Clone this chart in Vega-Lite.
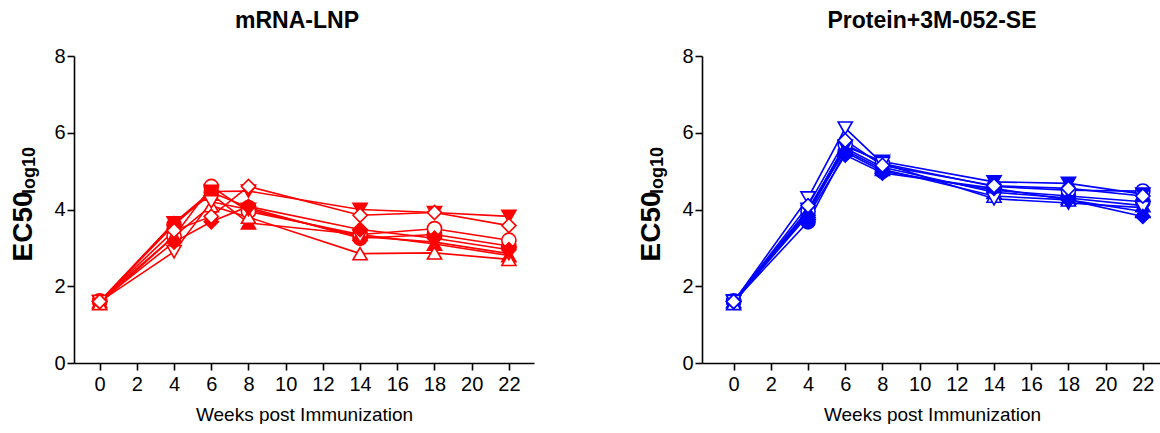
{
  "$schema": "https://vega.github.io/schema/vega-lite/v6.json",
  "padding": {"left": 9, "top": 10, "right": 0, "bottom": 0},
  "bounds": "flush",
  "spacing": 168,
  "config": {
    "font": "Liberation Sans",
    "view": {"stroke": null},
    "axis": {"grid": false, "domainColor": "#000", "tickColor": "#000", "labelColor": "#000", "titleColor": "#000", "domainWidth": 1.6, "tickWidth": 1.6, "tickSize": 7, "labelFontSize": 20, "labelPadding": 2}
  },
  "datasets": {
    "d": [
      {"g":"L","a":"a1","w":0,"v":1.6},{"g":"L","a":"a1","w":4,"v":3.6},{"g":"L","a":"a1","w":6,"v":4.45},{"g":"L","a":"a1","w":8,"v":4.05},{"g":"L","a":"a1","w":14,"v":3.25},{"g":"L","a":"a1","w":18,"v":3.35},{"g":"L","a":"a1","w":22,"v":3.05},
      {"g":"L","a":"a2","w":0,"v":1.62},{"g":"L","a":"a2","w":4,"v":3.3},{"g":"L","a":"a2","w":6,"v":4.6},{"g":"L","a":"a2","w":8,"v":3.95},{"g":"L","a":"a2","w":14,"v":3.35},{"g":"L","a":"a2","w":18,"v":3.5},{"g":"L","a":"a2","w":22,"v":3.2},
      {"g":"L","a":"a3","w":0,"v":1.6},{"g":"L","a":"a3","w":4,"v":3.65},{"g":"L","a":"a3","w":6,"v":4.4},{"g":"L","a":"a3","w":8,"v":3.65},{"g":"L","a":"a3","w":14,"v":3.35},{"g":"L","a":"a3","w":18,"v":3.1},{"g":"L","a":"a3","w":22,"v":2.8},
      {"g":"L","a":"a4","w":0,"v":1.55},{"g":"L","a":"a4","w":4,"v":3.3},{"g":"L","a":"a4","w":6,"v":4.1},{"g":"L","a":"a4","w":8,"v":3.8},{"g":"L","a":"a4","w":14,"v":2.85},{"g":"L","a":"a4","w":18,"v":2.87},{"g":"L","a":"a4","w":22,"v":2.7},
      {"g":"L","a":"a5","w":0,"v":1.6},{"g":"L","a":"a5","w":4,"v":3.65},{"g":"L","a":"a5","w":6,"v":4.47},{"g":"L","a":"a5","w":8,"v":4.48},{"g":"L","a":"a5","w":14,"v":4.0},{"g":"L","a":"a5","w":18,"v":3.92},{"g":"L","a":"a5","w":22,"v":3.82},
      {"g":"L","a":"a6","w":0,"v":1.6},{"g":"L","a":"a6","w":4,"v":2.9},{"g":"L","a":"a6","w":6,"v":4.2},{"g":"L","a":"a6","w":8,"v":4.0},{"g":"L","a":"a6","w":14,"v":3.3},{"g":"L","a":"a6","w":18,"v":3.15},{"g":"L","a":"a6","w":22,"v":2.85},
      {"g":"L","a":"a7","w":0,"v":1.6},{"g":"L","a":"a7","w":4,"v":3.15},{"g":"L","a":"a7","w":6,"v":3.68},{"g":"L","a":"a7","w":8,"v":4.08},{"g":"L","a":"a7","w":14,"v":3.48},{"g":"L","a":"a7","w":18,"v":3.25},{"g":"L","a":"a7","w":22,"v":2.95},
      {"g":"L","a":"a8","w":0,"v":1.6},{"g":"L","a":"a8","w":4,"v":3.45},{"g":"L","a":"a8","w":6,"v":3.82},{"g":"L","a":"a8","w":8,"v":4.6},{"g":"L","a":"a8","w":14,"v":3.85},{"g":"L","a":"a8","w":18,"v":3.92},{"g":"L","a":"a8","w":22,"v":3.58},
      {"g":"R","a":"a1","w":0,"v":1.6},{"g":"R","a":"a1","w":4,"v":3.68},{"g":"R","a":"a1","w":6,"v":5.5},{"g":"R","a":"a1","w":8,"v":5.0},{"g":"R","a":"a1","w":14,"v":4.5},{"g":"R","a":"a1","w":18,"v":4.35},{"g":"R","a":"a1","w":22,"v":4.2},
      {"g":"R","a":"a2","w":0,"v":1.62},{"g":"R","a":"a2","w":4,"v":3.95},{"g":"R","a":"a2","w":6,"v":5.7},{"g":"R","a":"a2","w":8,"v":5.2},{"g":"R","a":"a2","w":14,"v":4.6},{"g":"R","a":"a2","w":18,"v":4.5},{"g":"R","a":"a2","w":22,"v":4.48},
      {"g":"R","a":"a3","w":0,"v":1.6},{"g":"R","a":"a3","w":4,"v":3.9},{"g":"R","a":"a3","w":6,"v":5.6},{"g":"R","a":"a3","w":8,"v":5.1},{"g":"R","a":"a3","w":14,"v":4.45},{"g":"R","a":"a3","w":18,"v":4.3},{"g":"R","a":"a3","w":22,"v":4.1},
      {"g":"R","a":"a4","w":0,"v":1.55},{"g":"R","a":"a4","w":4,"v":3.95},{"g":"R","a":"a4","w":6,"v":5.55},{"g":"R","a":"a4","w":8,"v":5.05},{"g":"R","a":"a4","w":14,"v":4.35},{"g":"R","a":"a4","w":18,"v":4.25},{"g":"R","a":"a4","w":22,"v":3.95},
      {"g":"R","a":"a5","w":0,"v":1.62},{"g":"R","a":"a5","w":4,"v":4.0},{"g":"R","a":"a5","w":6,"v":5.65},{"g":"R","a":"a5","w":8,"v":5.25},{"g":"R","a":"a5","w":14,"v":4.72},{"g":"R","a":"a5","w":18,"v":4.68},{"g":"R","a":"a5","w":22,"v":4.4},
      {"g":"R","a":"a6","w":0,"v":1.6},{"g":"R","a":"a6","w":4,"v":4.3},{"g":"R","a":"a6","w":6,"v":6.12},{"g":"R","a":"a6","w":8,"v":5.2},{"g":"R","a":"a6","w":14,"v":4.28},{"g":"R","a":"a6","w":18,"v":4.17},{"g":"R","a":"a6","w":22,"v":4.05},
      {"g":"R","a":"a7","w":0,"v":1.6},{"g":"R","a":"a7","w":4,"v":3.85},{"g":"R","a":"a7","w":6,"v":5.42},{"g":"R","a":"a7","w":8,"v":4.95},{"g":"R","a":"a7","w":14,"v":4.55},{"g":"R","a":"a7","w":18,"v":4.25},{"g":"R","a":"a7","w":22,"v":3.82},
      {"g":"R","a":"a8","w":0,"v":1.6},{"g":"R","a":"a8","w":4,"v":4.1},{"g":"R","a":"a8","w":6,"v":5.8},{"g":"R","a":"a8","w":8,"v":5.15},{"g":"R","a":"a8","w":14,"v":4.62},{"g":"R","a":"a8","w":18,"v":4.55},{"g":"R","a":"a8","w":22,"v":4.35}
    ]
  },
  "resolve": {"scale": {"x": "independent", "y": "independent", "fill": "independent", "shape": "independent"}},
  "hconcat": [
    {
      "width": 460, "height": 307,
      "data": {"name": "d"},
      "transform": [{"filter": "datum.g === 'L'"}],
      "title": {"text": "mRNA-LNP", "fontSize": 23, "fontWeight": "bold", "anchor": "middle", "frame": "group", "baseline": "alphabetic", "offset": -5, "dx": -7, "color": "#000"},
      "resolve": {"axis": {"y": "independent"}},
      "layer": [
        {
          "mark": {"type": "line", "color": "#FF0000", "strokeWidth": 1.6},
          "encoding": {
            "x": {"field": "w", "type": "quantitative", "scale": {"domain": [-1.38, 23.35], "nice": false, "zero": false}, "axis": {"values": [0,2,4,6,8,10,12,14,16,18,20,22], "labelPadding": 4, "title": "Weeks post Immunization", "titleFontSize": 19, "titleFontWeight": "normal", "titlePadding": 11}},
            "y": {"field": "v", "type": "quantitative", "scale": {"domain": [0, 8], "nice": false}, "axis": {"orient": "left", "values": [0,2,4,6,8], "title": "EC50", "titleFontSize": 28, "titleFontWeight": "bold", "titleAngle": -90, "titleAlign": "center", "titleBaseline": "alphabetic", "titleX": -43, "titleY": 170}},
            "detail": {"field": "a"}
          }
        },
        {
          "mark": {"type": "point", "stroke": "#FF0000", "strokeWidth": 1.6, "opacity": 1, "size": 200},
          "encoding": {
            "x": {"field": "w", "type": "quantitative"},
            "y": {"field": "v", "type": "quantitative", "axis": {"orient": "left", "domain": false, "ticks": false, "labels": false, "title": "log10", "titleFontSize": 18, "titleFontWeight": "bold", "titleAngle": -90, "titleAlign": "center", "titleBaseline": "alphabetic", "titleX": -40, "titleY": 114}},
            "shape": {"field": "a", "type": "nominal", "legend": null, "scale": {"domain": ["a1","a2","a3","a4","a5","a6","a7","a8"], "range": ["circle","circle","triangle-up","triangle-up","triangle-down","triangle-down","diamond","diamond"]}},
            "fill": {"field": "a", "type": "nominal", "legend": null, "scale": {"domain": ["a1","a2","a3","a4","a5","a6","a7","a8"], "range": ["#FF0000","#FFFFFF","#FF0000","#FFFFFF","#FF0000","#FFFFFF","#FF0000","#FFFFFF"]}}
          }
        }
      ]
    },
    {
      "width": 460, "height": 307,
      "data": {"name": "d"},
      "transform": [{"filter": "datum.g === 'R'"}],
      "title": {"text": "Protein+3M-052-SE", "fontSize": 23, "fontWeight": "bold", "anchor": "middle", "frame": "group", "baseline": "alphabetic", "offset": -5, "dx": 0, "color": "#000"},
      "resolve": {"axis": {"y": "independent"}},
      "layer": [
        {
          "mark": {"type": "line", "color": "#0000FF", "strokeWidth": 1.6},
          "encoding": {
            "x": {"field": "w", "type": "quantitative", "scale": {"domain": [-1.7, 23.03], "nice": false, "zero": false}, "axis": {"values": [0,2,4,6,8,10,12,14,16,18,20,22], "labelPadding": 4, "title": "Weeks post Immunization", "titleFontSize": 19, "titleFontWeight": "normal", "titlePadding": 11}},
            "y": {"field": "v", "type": "quantitative", "scale": {"domain": [0, 8], "nice": false}, "axis": {"orient": "left", "values": [0,2,4,6,8], "title": "EC50", "titleFontSize": 28, "titleFontWeight": "bold", "titleAngle": -90, "titleAlign": "center", "titleBaseline": "alphabetic", "titleX": -43, "titleY": 170}},
            "detail": {"field": "a"}
          }
        },
        {
          "mark": {"type": "point", "stroke": "#0000FF", "strokeWidth": 1.6, "opacity": 1, "size": 200},
          "encoding": {
            "x": {"field": "w", "type": "quantitative"},
            "y": {"field": "v", "type": "quantitative", "axis": {"orient": "left", "domain": false, "ticks": false, "labels": false, "title": "log10", "titleFontSize": 18, "titleFontWeight": "bold", "titleAngle": -90, "titleAlign": "center", "titleBaseline": "alphabetic", "titleX": -40, "titleY": 114}},
            "shape": {"field": "a", "type": "nominal", "legend": null, "scale": {"domain": ["a1","a2","a3","a4","a5","a6","a7","a8"], "range": ["circle","circle","triangle-up","triangle-up","triangle-down","triangle-down","diamond","diamond"]}},
            "fill": {"field": "a", "type": "nominal", "legend": null, "scale": {"domain": ["a1","a2","a3","a4","a5","a6","a7","a8"], "range": ["#0000FF","#FFFFFF","#0000FF","#FFFFFF","#0000FF","#FFFFFF","#0000FF","#FFFFFF"]}}
          }
        }
      ]
    }
  ]
}
